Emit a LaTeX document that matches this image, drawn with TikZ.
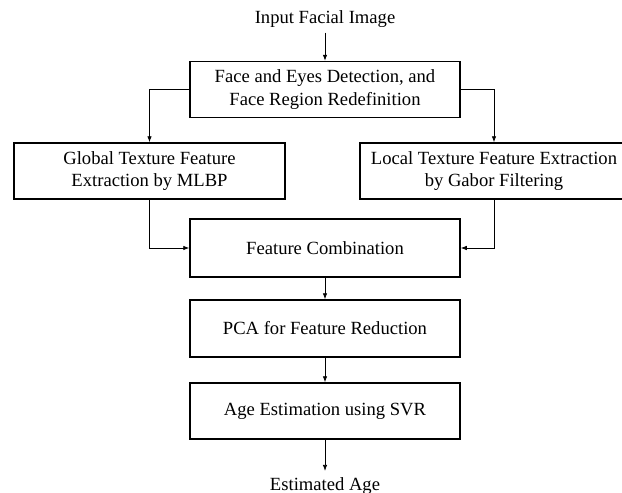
\documentclass[tikz,border=0pt]{standalone}
\usepackage{fontspec}
\setmainfont{Liberation Serif}
\usetikzlibrary{arrows.meta}

\begin{document}
\begin{tikzpicture}[x=1pt,y=-1pt,
	font=\fontsize{18.6}{22.5}\selectfont,
	block/.style={draw,line width=1.5pt,align=center,minimum width=270pt,minimum height=56pt,inner sep=0pt},
	flow/.style={line width=0.8pt,-{Latex[length=6pt,width=4.5pt]}}]
	\useasboundingbox (0,0) rectangle (622,493);
	\node[inner sep=5pt] (input) at (325,19) {Input Facial Image};
	\node[block] (detect) at (325,89.5) {Face and Eyes Detection, and\\Face Region Redefinition};
	\node[block,minimum width=271pt] (global) at (149.5,171) {Global Texture Feature\\Extraction by MLBP};
	\node[block,minimum width=268pt] (local) at (494,171) {Local Texture Feature Extraction\\by Gabor Filtering};
	\node[block,minimum height=58pt] (combo) at (325,248) {Feature Combination};
	\node[block,minimum height=57pt] (pca) at (325,328.5) {PCA for Feature Reduction};
	\node[block] (age) at (325,411) {Age Estimation using SVR};
	\node[anchor=base,inner sep=6pt] (output) at (325,490) {Estimated Age};
	\draw[flow] (input) -- (detect);
	\draw[flow] (detect.west) -| (global.north);
	\draw[flow] (detect.east) -| (local.north);
	\draw[flow] (global.south) |- (combo.west);
	\draw[flow] (local.south) |- (combo.east);
	\draw[flow] (combo) -- (pca);
	\draw[flow] (pca) -- (age);
	\draw[flow] (age) -- (output);
\end{tikzpicture}
\end{document}
